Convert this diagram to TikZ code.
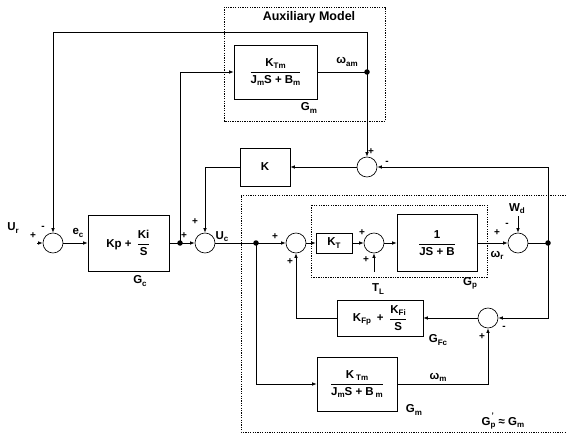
\documentclass[tikz,border=0pt]{standalone}
\usepackage{fontspec}
\usepackage{amsmath}
\setmainfont{Liberation Sans}
\usetikzlibrary{arrows.meta}
\newcommand{\sbs}[1]{\raisebox{-0.35ex}{\fontsize{8}{9}\selectfont #1}}
\newcommand{\tf}[2]{$\dfrac{\text{#1}}{\text{#2}}$}
\begin{document}
\begin{tikzpicture}[x=1pt,y=-1pt,line width=0.65pt,
  font=\fontsize{11.5}{13}\selectfont\bfseries,
  blk/.style={draw,line width=0.75pt,inner sep=2pt},
  sumc/.style={draw,circle,minimum size=20pt,inner sep=0pt},
  jdot/.style={circle,fill,minimum size=5.5pt,inner sep=0pt},
  arr/.style={-{Latex[length=4.5pt,width=3.5pt]}},
  dbox/.style={draw,line width=0.45pt,dash pattern=on 1.3pt off 1.1pt},
  sgn/.style={font=\fontsize{10}{11}\selectfont\bfseries,inner sep=0pt},
  lbl/.style={inner sep=0pt}]
\useasboundingbox (0,0) rectangle (566,436);

% dashed enclosures
\draw[dbox] (224,7) rectangle (385,121);
\draw[dbox] (566,195) -- (241,195) -- (241,432) -- (566,432);
\draw[dbox] (311,205) rectangle (487,277);

% blocks and junctions
\node[sumc] (s1) at (53,243) {};
\node[blk,minimum width=81pt,minimum height=56pt] (gc) at (128.5,243) {Kp +\, \tf{Ki}{S}};
\node[jdot] (d1) at (180,243) {};
\node[sumc] (suc) at (205,243) {};
\node[jdot] (d2) at (256,243) {};
\node[sumc] (s2) at (296,243) {};
\node[blk,minimum width=36pt,minimum height=20pt] (kt) at (334,243) {K\sbs{T}};
\node[sumc] (s3) at (374,243) {};
\node[blk,minimum width=80pt,minimum height=57pt] (pl) at (437,243) {\tf{1}{JS + B}};
\node[sumc] (s4) at (518,243) {};
\node[jdot] (d3) at (548,243) {};
\node[blk,minimum width=86pt,minimum height=36pt] (gfc) at (380,318) {K\sbs{Fp}\enspace+\enspace\tf{K\sbs{Fi}}{S}};
\node[sumc] (s5) at (488,318) {};
\node[blk,minimum width=80pt,minimum height=54pt] (gml) at (357,384) {\tf{K\,\sbs{Tm}}{J\sbs{m}S + B\,\sbs{m}}};
\node[blk,minimum width=50pt,minimum height=38pt] (k) at (265,167) {K};
\node[sumc] (sk) at (367,167) {};
\node[blk,minimum width=83pt,minimum height=54pt] (gma) at (275.5,72) {\tf{K\sbs{Tm}}{J\sbs{m}S + B\sbs{m}}};
\node[jdot] (da) at (367,72) {};

% free ends
\coordinate (ur) at (37,243);
\coordinate (top) at (367,32);
\coordinate (tl) at (374,272);
\coordinate (wd) at (518,216);

% connectors
\draw[arr] (ur) -- (s1.west);
\draw[arr] (s1.east) -- (gc.west);
\draw (gc.east) -- (d1.center);
\draw[arr] (d1.center) -- (suc.west);
\draw[arr] (d1.center) |- (gma.west);
\draw (gma.east) -- (da.center);
\draw[arr] (da.center) -- (top) -| (s1.north);
\draw[arr] (da.center) -- (sk.north);
\draw[arr] (sk.west) -- (k.east);
\draw[arr] (k.west) -| (suc.north);
\draw (suc.east) -- (d2.center);
\draw[arr] (d2.center) -- (s2.west);
\draw[arr] (s2.east) -- (kt.west);
\draw[arr] (kt.east) -- (s3.west);
\draw[arr] (s3.east) -- (pl.west);
\draw[arr] (pl.east) -- (s4.west);
\draw (s4.east) -- (d3.center);
\draw[arr] (d3.center) |- (sk.east);
\draw[arr] (d3.center) |- (s5.east);
\draw[arr] (s5.west) -- (gfc.east);
\draw[arr] (gfc.west) -| (s2.south);
\draw[arr] (d2.center) |- (gml.west);
\draw[arr] (gml.east) -| (s5.south);
\draw[arr] (tl) -- (s3.south);
\draw[arr] (wd) -- (s4.north);

% labels
\node[lbl] (tAux) at (309,17) {\fontsize{12.5}{14}\selectfont Auxiliary Model};
\node[lbl] (tWam) at (347,62) {ω\sbs{am}};
\node[lbl] (tGma) at (309,108) {G\sbs{m}};
\node[lbl] (tUr) at (13,228) {U\sbs{r}};
\node[lbl] (tEc) at (78,233) {e\sbs{c}};
\node[lbl] (tGc) at (140,281) {G\sbs{c}};
\node[lbl] (tUc) at (222,237) {U\sbs{c}};
\node[lbl] (tTL) at (378,289) {T\sbs{L}};
\node[lbl] (tGp) at (470,283) {G\sbs{p}};
\node[lbl] (tWd) at (517,209) {W\sbs{d}};
\node[lbl] (tWr) at (497,255) {ω\sbs{r}};
\node[lbl] (tGfc) at (438,340) {G\sbs{Fc}};
\node[lbl] (tWm) at (438,377) {ω\sbs{m}};
\node[lbl] (tGml) at (414,410) {G\sbs{m}};
\node[lbl] (tGpe) at (503,421) {G\rlap{\raisebox{1.2ex}{\fontsize{8}{9}\selectfont\kern1pt'}}\sbs{p} ≈ G\sbs{m}};

% signs
\node[sgn] (g1) at (33,236) {+};
\node[sgn] (g2) at (43,228) {-};
\node[sgn] (g3) at (195,222) {+};
\node[sgn] (g4) at (184,236) {+};
\node[sgn] (g5) at (275,237) {+};
\node[sgn] (g6) at (290,262) {+};
\node[sgn] (g7) at (362,233) {+};
\node[sgn] (g8) at (366,260) {+};
\node[sgn] (g9) at (497,233) {+};
\node[sgn] (g10) at (507,225) {-};
\node[sgn] (g11) at (371,152) {+};
\node[sgn] (g12) at (387,163) {-};
\node[sgn] (g13) at (504,328) {-};
\node[sgn] (g14) at (482,337) {+};
\end{tikzpicture}
\end{document}
